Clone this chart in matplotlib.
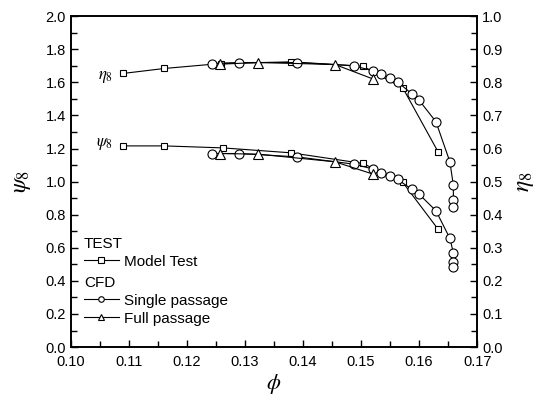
import matplotlib.pyplot as plt
from matplotlib.lines import Line2D
from matplotlib.ticker import MultipleLocator

plt.rcParams['font.family'] = ['Liberation Sans', 'DejaVu Sans']
plt.rcParams['mathtext.fontset'] = 'stix'

# Model test (squares)
phi_test_eta = [0.109, 0.1161, 0.1258, 0.1380, 0.1503, 0.1572, 0.1633]
eta_test = [0.827, 0.842, 0.857, 0.862, 0.849, 0.783, 0.589]
phi_test_psi = [0.109, 0.1161, 0.1262, 0.1380, 0.1503, 0.1572, 0.1633]
psi_test = [1.216, 1.216, 1.204, 1.174, 1.110, 0.995, 0.711]

# CFD single passage (circles)
phi_single = [0.1244, 0.1290, 0.1389, 0.1487, 0.1521, 0.1534, 0.1550, 0.1563,
              0.1587, 0.1600, 0.1629, 0.1653, 0.1659, 0.1659, 0.1659]
eta_single = [0.857, 0.860, 0.860, 0.850, 0.835, 0.825, 0.814, 0.801,
              0.766, 0.746, 0.681, 0.560, 0.489, 0.444, 0.422]
psi_single = [1.170, 1.170, 1.150, 1.106, 1.076, 1.055, 1.033, 1.013,
              0.955, 0.924, 0.824, 0.657, 0.570, 0.515, 0.485]

# CFD full passage (triangles)
phi_full = [0.1257, 0.1323, 0.1455, 0.1521]
eta_full = [0.855, 0.860, 0.854, 0.810]
psi_full = [1.170, 1.166, 1.120, 1.045]

fig = plt.figure(figsize=(5.41, 4.05), dpi=100)
ax = fig.add_axes([0.131, 0.143, 0.751, 0.817])
ax2 = ax.twinx()

kw = dict(color='black', lw=0.8, mfc='white', mec='black', mew=0.8)
ax.plot(phi_test_psi, psi_test, marker='s', ms=5, **kw)
ax.plot(phi_single, psi_single, marker='o', ms=6.5, **kw)
ax.plot(phi_full, psi_full, marker='^', ms=6.5, **kw)
ax2.plot(phi_test_eta, eta_test, marker='s', ms=5, **kw)
ax2.plot(phi_single, eta_single, marker='o', ms=6.5, **kw)
ax2.plot(phi_full, eta_full, marker='^', ms=6.5, **kw)

ax.set_xlim(0.10, 0.17)
ax.set_ylim(0.0, 2.0)
ax2.set_ylim(0.0, 1.0)

ax.xaxis.set_major_locator(MultipleLocator(0.01))
ax.xaxis.set_minor_locator(MultipleLocator(0.005))
ax.yaxis.set_major_locator(MultipleLocator(0.2))
ax.yaxis.set_minor_locator(MultipleLocator(0.1))
ax2.yaxis.set_major_locator(MultipleLocator(0.1))
ax2.yaxis.set_minor_locator(MultipleLocator(0.05))

ax.xaxis.set_major_formatter(plt.FormatStrFormatter('%.2f'))
ax.yaxis.set_major_formatter(plt.FormatStrFormatter('%.1f'))
ax2.yaxis.set_major_formatter(plt.FormatStrFormatter('%.1f'))

ax.tick_params(axis='both', which='both', direction='in', labelsize=10.5,
               width=1, top=False)
ax.tick_params(axis='x', pad=6)
ax.tick_params(which='major', length=5)
ax.tick_params(which='minor', length=4)
ax2.tick_params(axis='y', which='both', direction='in', labelsize=10.5, width=1)
ax2.tick_params(which='major', length=5)
ax2.tick_params(which='minor', length=4)
for a in (ax, ax2):
    for s in a.spines.values():
        s.set_linewidth(1.2)

ax.set_xlabel(r'$\phi$', fontsize=16, labelpad=2)
ax.set_ylabel(r'$\psi_8$', fontsize=17, labelpad=9)
ax2.set_ylabel(r'$\eta_8$', fontsize=17, labelpad=8, rotation=90)

ax.text(0.1072, 1.635, r'$\eta_8$', fontsize=12, ha='right', va='center')
ax.text(0.1072, 1.225, r'$\psi_8$', fontsize=12, ha='right', va='center')

h_test = [Line2D([], [], marker='s', ms=4, **kw)]
h_cfd = [Line2D([], [], marker='o', ms=4, **kw),
         Line2D([], [], marker='^', ms=4, **kw)]
common = dict(loc='upper left', frameon=False, fontsize=11, title_fontsize=11,
              alignment='left', borderpad=0, borderaxespad=0,
              handlelength=2.3, handletextpad=0.3, labelspacing=0.25)
leg1 = ax.legend(h_test, ['Model Test'], title='TEST',
                 bbox_to_anchor=(0.032, 0.333), **common)
ax.add_artist(leg1)
ax.legend(h_cfd, ['Single passage', 'Full passage'], title='CFD',
          bbox_to_anchor=(0.032, 0.215), **common)

fig.savefig('out.png', dpi=100)
